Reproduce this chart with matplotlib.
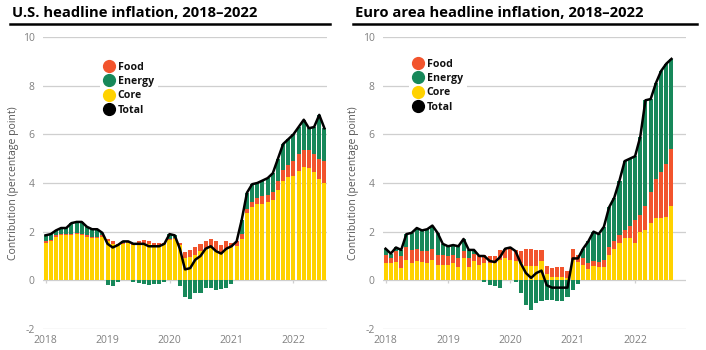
import matplotlib.pyplot as plt
from matplotlib.lines import Line2D
import numpy as np

# couleurs
c_food = '#F2542D'
c_energy = '#17885A'
c_core = '#FFD200'
c_total = '#000000'
c_grid = '#CFCFCF'
c_tick = '#808080'

years = ['2018', '2019', '2020', '2021', '2022']

### U.S. (Jan 2018 - Jul 2022)
us_core = [1.55, 1.6, 1.8, 1.85, 1.85, 1.85, 1.9, 1.85, 1.8, 1.75, 1.75, 1.8,
           1.6, 1.5, 1.45, 1.5, 1.55, 1.45, 1.55, 1.55, 1.5, 1.45, 1.45, 1.5,
           1.65, 1.7, 1.45, 0.9, 0.95, 1.05, 1.2, 1.3, 1.35, 1.25, 1.15, 1.3,
           1.35, 1.4, 1.7, 2.75, 3.0, 3.15, 3.15, 3.2, 3.3, 3.7, 4.1, 4.25,
           4.3, 4.5, 4.65, 4.6, 4.45, 4.15, 4.0]
us_food = [0.05, 0.05, 0.05, 0.05, 0.05, 0.05, 0.05, 0.05, 0.05, 0.05, 0.05, 0.05,
           0.1, 0.1, 0.05, 0.05, 0.05, 0.1, 0.05, 0.1, 0.1, 0.1, 0.1, 0.05,
           0.05, 0.05, 0.1, 0.25, 0.3, 0.3, 0.3, 0.3, 0.35, 0.35, 0.3, 0.3,
           0.2, 0.2, 0.2, 0.2, 0.2, 0.25, 0.3, 0.3, 0.35, 0.4, 0.45, 0.5,
           0.6, 0.7, 0.7, 0.75, 0.75, 0.85, 0.9]
us_energy = [0.25, 0.25, 0.2, 0.25, 0.25, 0.45, 0.45, 0.5, 0.35, 0.3, 0.3, 0.1,
             -0.2, -0.25, -0.05, 0.05, 0.0, -0.05, -0.1, -0.15, -0.2, -0.15, -0.15, -0.05,
             0.2, 0.1, -0.25, -0.7, -0.75, -0.5, -0.5, -0.3, -0.3, -0.4, -0.35, -0.3,
             -0.15, 0.0, 0.6, 0.65, 0.75, 0.6, 0.65, 0.7, 0.75, 0.9, 1.05, 1.05,
             1.1, 1.1, 1.25, 0.9, 1.1, 1.8, 1.35]
us_total = [1.85, 1.9, 2.05, 2.15, 2.15, 2.35, 2.4, 2.4, 2.2, 2.1, 2.1, 1.95,
            1.5, 1.35, 1.45, 1.6, 1.6, 1.5, 1.5, 1.5, 1.4, 1.4, 1.4, 1.5,
            1.9, 1.85, 1.3, 0.45, 0.5, 0.85, 1.0, 1.3, 1.4, 1.2, 1.1, 1.3,
            1.4, 1.6, 2.5, 3.6, 3.95, 4.0, 4.1, 4.2, 4.4, 5.0, 5.6, 5.8,
            6.0, 6.3, 6.6, 6.25, 6.3, 6.8, 6.25]

### Zone euro (Jan 2018 - Aug 2022)
ea_core = [0.7, 0.7, 0.75, 0.5, 0.85, 0.7, 0.8, 0.75, 0.7, 0.85, 0.65, 0.65,
           0.65, 0.7, 0.55, 0.9, 0.55, 0.8, 0.65, 0.7, 0.7, 0.7, 0.85, 0.9,
           0.85, 0.8, 0.7, 0.6, 0.6, 0.6, 0.8, 0.25, 0.15, 0.15, 0.15, 0.1,
           0.85, 0.75, 0.65, 0.45, 0.6, 0.55, 0.55, 1.05, 1.3, 1.55, 1.75, 1.75,
           1.55, 2.0, 2.05, 2.35, 2.55, 2.55, 2.6, 3.05]
ea_food = [0.35, 0.2, 0.45, 0.5, 0.5, 0.55, 0.5, 0.45, 0.5, 0.45, 0.4, 0.4,
           0.35, 0.35, 0.35, 0.3, 0.35, 0.3, 0.35, 0.35, 0.3, 0.3, 0.4, 0.4,
           0.45, 0.45, 0.5, 0.7, 0.7, 0.65, 0.45, 0.35, 0.35, 0.4, 0.4, 0.3,
           0.45, 0.3, 0.25, 0.25, 0.2, 0.2, 0.3, 0.3, 0.3, 0.3, 0.3, 0.5,
           0.95, 0.7, 1.0, 1.3, 1.6, 1.9, 2.2, 2.35]
ea_energy = [0.25, 0.2, 0.15, 0.25, 0.55, 0.7, 0.85, 0.85, 0.9, 0.95, 0.9, 0.45,
             0.4, 0.4, 0.5, 0.5, 0.35, 0.15, 0.0, -0.05, -0.2, -0.25, -0.3, 0.0,
             0.05, -0.05, -0.5, -1.0, -1.2, -0.95, -0.85, -0.8, -0.8, -0.85, -0.85, -0.7,
             -0.4, -0.15, 0.4, 0.9, 1.2, 1.15, 1.35, 1.65, 1.8, 2.25, 2.85, 2.75,
             2.6, 3.2, 4.35, 3.8, 3.95, 4.15, 4.1, 3.7]
ea_total = [1.3, 1.1, 1.35, 1.25, 1.9, 1.95, 2.15, 2.05, 2.1, 2.25, 1.95, 1.5,
            1.4, 1.45, 1.4, 1.7, 1.25, 1.25, 1.0, 1.0, 0.8, 0.75, 0.95, 1.3,
            1.35, 1.2, 0.7, 0.3, 0.1, 0.3, 0.4, -0.2, -0.3, -0.3, -0.3, -0.3,
            0.9, 0.9, 1.3, 1.6, 2.0, 1.9, 2.2, 3.0, 3.4, 4.1, 4.9, 5.0,
            5.1, 5.9, 7.4, 7.45, 8.1, 8.6, 8.9, 9.1]


def panel(ax, core, food, energy, total, xmax):
    core = np.array(core)
    food = np.array(food)
    energy = np.array(energy)
    x = np.arange(len(core))
    w = 0.78
    # energie positive empilee au dessus, negative sous zero
    e_pos = np.where(energy > 0, energy, 0)
    e_neg = np.where(energy < 0, energy, 0)
    ax.bar(x, core, w, color=c_core, zorder=2)
    ax.bar(x, food, w, bottom=core, color=c_food, zorder=2)
    ax.bar(x, e_pos, w, bottom=core + food, color=c_energy, zorder=2)
    ax.bar(x, e_neg, w, color=c_energy, zorder=2)
    ax.plot(x, total, color=c_total, lw=1.8, zorder=3, solid_joinstyle='round')

    ax.set_xlim(-0.5, xmax)
    ax.set_ylim(-2, 10)
    ax.set_yticks([-2, 0, 2, 4, 6, 8, 10])
    ax.set_yticklabels(['-2', '0', '2', '4', '6', '8', '10'])
    ax.grid(axis='y', color=c_grid, lw=0.9, zorder=0)
    ax.set_axisbelow(True)
    for s in ax.spines.values():
        s.set_visible(False)
    ticks = [12 * i for i in range(len(years))]
    ax.set_xticks(ticks)
    ax.set_xticklabels(years)
    ax.vlines(ticks, -0.12, 0, color=c_grid, lw=0.9, zorder=1)
    ax.tick_params(axis='both', length=0, labelsize=7.5, labelcolor=c_tick)
    ax.tick_params(axis='x', pad=4)
    ax.tick_params(axis='y', pad=6)
    ax.set_ylabel('Contribution (percentage point)', fontsize=7.5, color='#555555', labelpad=3)


plt.rcParams['font.family'] = ['Open Sans', 'DejaVu Sans']

fig = plt.figure(figsize=(7.06, 3.5), dpi=100)
ax1 = fig.add_axes([43 / 706, 21 / 350, 284 / 706, 292 / 350])
ax2 = fig.add_axes([383 / 706, 21 / 350, 303 / 706, 292 / 350])

panel(ax1, us_core, us_food, us_energy, us_total, 54.5)
panel(ax2, ea_core, ea_food, ea_energy, ea_total, 57.8)

handles = [Line2D([], [], marker='o', ls='none', color=c, markersize=8.5)
           for c in (c_food, c_energy, c_core, c_total)]
labels = ['Food', 'Energy', 'Core', 'Total']
for ax, pos in ((ax1, (0.2, 0.93)), (ax2, (0.085, 0.94))):
    leg = ax.legend(handles, labels, loc='upper left', bbox_to_anchor=pos,
                    frameon=True, facecolor='white', edgecolor='none', framealpha=1,
                    fontsize=7.6, labelspacing=0.32, handletextpad=0.3,
                    borderpad=0.4, handlelength=1.0, borderaxespad=0)
    for t in leg.get_texts():
        t.set_fontweight('bold')
        t.set_color('#111111')

# titres et filets
fig.text(12 / 706, 1 - 13 / 350, 'U.S. headline inflation, 2018\u20132022',
         fontsize=10.6, fontweight='bold', va='center', ha='left')
fig.text(355 / 706, 1 - 13 / 350, 'Euro area headline inflation, 2018\u20132022',
         fontsize=10.6, fontweight='bold', va='center', ha='left')
fig.add_artist(Line2D([10 / 706, 330 / 706], [1 - 24 / 350] * 2, color='black', lw=1.8))
fig.add_artist(Line2D([353 / 706, 697 / 706], [1 - 24 / 350] * 2, color='black', lw=1.8))

fig.savefig('out.png', dpi=100)
